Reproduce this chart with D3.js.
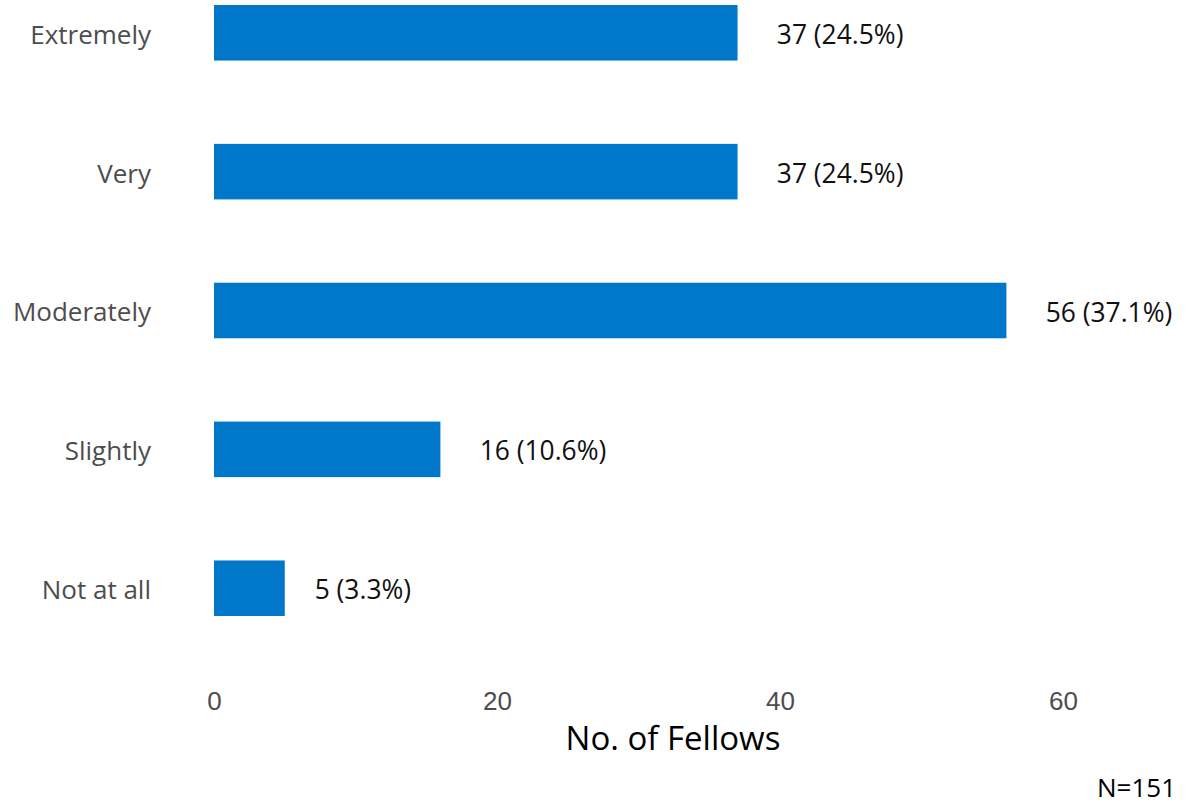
<!DOCTYPE html>
<html>
<head>
<meta charset="utf-8">
<script src="https://cdn.jsdelivr.net/npm/d3@7"></script>
<style>
  html, body { margin: 0; padding: 0; background: #fff; }
  svg { display: block; font-family: "Segoe UI", "Open Sans", "Noto Sans", sans-serif; }
</style>
</head>
<body>
<svg id="chart" width="1187" height="805"></svg>
<script>
// Survey responses: how many fellows chose each level
const categories = ["Extremely", "Very", "Moderately", "Slightly", "Not at all"];
const counts = [37, 37, 56, 16, 5];
const percents = [24.5, 24.5, 37.1, 10.6, 3.3];
const xTicks = [0, 20, 40, 60];
const totalN = 151;

const svg = d3.select("#chart");

const x = d3.scaleLinear().domain([0, 60]).range([214, 1063]);
const y = d3.scaleBand().domain(categories).range([5, 616]).paddingInner(0.6).paddingOuter(0);

const rows = categories.map((c, i) => ({ cat: c, n: counts[i], pct: percents[i] }));

// bars
svg.append("g").selectAll("rect").data(rows).join("rect")
  .attr("x", x(0))
  .attr("y", d => y(d.cat))
  .attr("width", d => x(d.n) - x(0))
  .attr("height", y.bandwidth())
  .attr("fill", "#0077C8");

// category labels
svg.append("g").selectAll("text").data(rows).join("text")
  .attr("x", 151)
  .attr("y", d => y(d.cat) + y.bandwidth() / 2)
  .attr("dy", "0.42em")
  .attr("text-anchor", "end")
  .attr("font-size", 26)
  .attr("fill", "#4d4d4d")
  .text(d => d.cat);

// value labels, nudged right by a share of their own width
const vals = svg.append("g").selectAll("text").data(rows).join("text")
  .attr("y", d => y(d.cat) + y.bandwidth() / 2)
  .attr("dy", "0.42em")
  .attr("font-size", 26.4)
  .attr("fill", "#111")
  .text(d => `${d.n} (${d.pct.toFixed(1)}%)`);
vals.attr("x", function(d) { return x(d.n) + 0.31 * this.getComputedTextLength(); });

// x axis tick labels (no axis line)
const xAxis = d3.axisBottom(x).tickValues(xTicks).tickSize(0).tickPadding(0);
const gx = svg.append("g").attr("transform", "translate(0,688)").call(xAxis);
gx.select(".domain").remove();
gx.selectAll("text")
  .attr("font-size", 26)
  .attr("font-family", null)
  .attr("fill", "#4d4d4d")
  .attr("dy", null)
  .attr("y", 22);

// axis title
svg.append("text")
  .attr("x", 673)
  .attr("y", 750)
  .attr("text-anchor", "middle")
  .attr("font-size", 33)
  .attr("fill", "#000")
  .text("No. of Fellows");

// sample size note
svg.append("text")
  .attr("x", 1176)
  .attr("y", 797)
  .attr("text-anchor", "end")
  .attr("font-size", 26)
  .attr("fill", "#000")
  .text(`N=${totalN}`);
</script>
</body>
</html>
